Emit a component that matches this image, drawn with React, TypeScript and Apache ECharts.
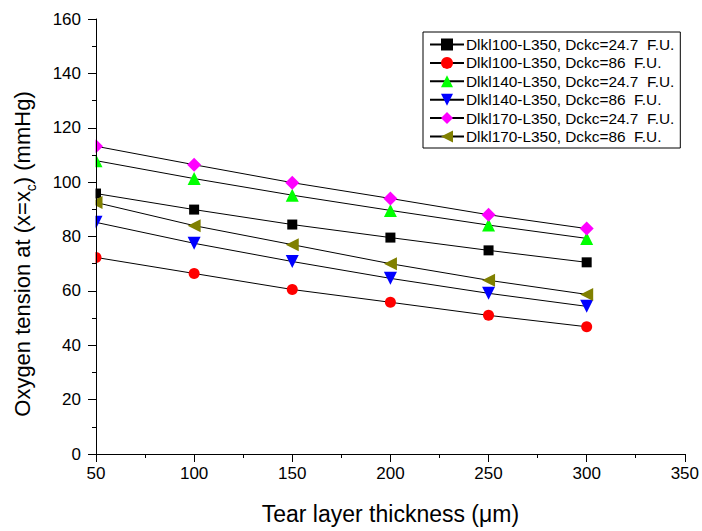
import React, { useEffect, useRef } from "react";
import * as echarts from "echarts";

const thickness = [50, 100, 150, 200, 250, 300];
const dlkl100_247 = [95.8, 89.9, 84.4, 79.6, 74.9, 70.5];
const dlkl100_86 = [72.3, 66.4, 60.5, 55.8, 51.0, 46.8];
const dlkl140_247 = [107.9, 101.3, 95.2, 89.6, 84.2, 79.3];
const dlkl140_86 = [85.2, 77.5, 70.8, 64.6, 59.1, 54.3];
const dlkl170_247 = [113.2, 106.4, 99.8, 94.0, 88.0, 82.9];
const dlkl170_86 = [92.5, 84.0, 77.0, 70.0, 63.9, 58.7];

const seriesNames = [
  "Dlkl100-L350, Dckc=24.7  F.U.",
  "Dlkl100-L350, Dckc=86  F.U.",
  "Dlkl140-L350, Dckc=24.7  F.U.",
  "Dlkl140-L350, Dckc=86  F.U.",
  "Dlkl170-L350, Dckc=24.7  F.U.",
  "Dlkl170-L350, Dckc=86  F.U.",
];
const seriesValues = [dlkl100_247, dlkl100_86, dlkl140_247, dlkl140_86, dlkl170_247, dlkl170_86];
const colors = ["#000000", "#ff0000", "#00ff00", "#0000ff", "#ff00ff", "#808000"];
const symbols = ["rect", "circle", "triangle", "triangle", "diamond", "triangle"];
const symbolSizes = [10, 11, 13, 13, 14, 13];
const symbolRotates = [0, 0, 0, 180, 0, 90];

const xTitle = "Tear layer thickness (\u03bcm)";
const yTitle = "Oxygen tension at (x=x{sub|c}) (mmHg)";

export default function App() {
  const ref = useRef<HTMLDivElement>(null);
  useEffect(() => {
    if (!ref.current) return;
    const chart = echarts.init(ref.current, null, { renderer: "svg" });
    const font = "Liberation Sans, Arial, sans-serif";
    chart.setOption({
      animation: false,
      textStyle: { fontFamily: font, color: "#000" },
      grid: { left: 96, right: 17, top: 19, bottom: 77, containLabel: false },
      legend: {
        orient: "vertical",
        left: 423,
        top: 32,
        padding: [5, 6, 4, 6],
        itemWidth: 34,
        itemHeight: 15,
        itemGap: 3.4,
        borderColor: "#000",
        borderWidth: 1,
        backgroundColor: "#fff",
        textStyle: { fontFamily: font, fontSize: 15.4, lineHeight: 15, color: "#000", padding: [0, 0, 0, -3] },
        data: seriesNames,
      },
      xAxis: {
        type: "value",
        min: 50,
        max: 350,
        interval: 50,
        z: 10,
        name: xTitle,
        nameLocation: "middle",
        nameGap: 48,
        nameTextStyle: { fontSize: 23, fontFamily: font, color: "#000" },
        axisLine: { show: true, lineStyle: { color: "#000", width: 1 } },
        axisTick: { show: true, length: 8, inside: false, lineStyle: { color: "#000" } },
        minorTick: { show: true, splitNumber: 2, length: 4, lineStyle: { color: "#000" } },
        axisLabel: { fontSize: 17, color: "#000", margin: 11, fontFamily: font },
        splitLine: { show: false },
      },
      yAxis: {
        type: "value",
        min: 0,
        max: 160,
        interval: 20,
        z: 10,
        axisLine: { show: true, lineStyle: { color: "#000", width: 1 } },
        axisTick: { show: true, length: 8, inside: false, lineStyle: { color: "#000" } },
        minorTick: { show: true, splitNumber: 2, length: 4, lineStyle: { color: "#000" } },
        axisLabel: { fontSize: 17, color: "#000", margin: 15, fontFamily: font },
        splitLine: { show: false },
      },
      graphic: [
        {
          type: "rect",
          z: 5,
          shape: { x: 84, y: 10, width: 11.5, height: 443 },
          style: { fill: "#fff" },
          silent: true,
        },
        {
          type: "text",
          z: 20,
          x: 22,
          y: 254,
          rotation: Math.PI / 2,
          silent: true,
          style: {
            text: yTitle,
            fontSize: 22,
            fontFamily: font,
            fill: "#000",
            align: "center",
            verticalAlign: "middle",
            rich: {
              sub: { fontSize: 14, fontFamily: font, fill: "#000", verticalAlign: "bottom", lineHeight: 31 },
            },
          },
        },
      ],
      series: seriesNames.map((name, i) => ({
        name,
        type: "line",
        data: thickness.map((t, j) => [t, seriesValues[i][j]]),
        symbol: symbols[i],
        symbolSize: symbolSizes[i],
        symbolRotate: symbolRotates[i],
        showAllSymbol: true,
        clip: false,
        lineStyle: { color: "#000", width: 1 },
        itemStyle: { color: colors[i], borderWidth: 0 },
        z: 2,
      })),
    });
    return () => chart.dispose();
  }, []);
  return <div ref={ref} style={{ width: 702, height: 531, position: "absolute", left: 0, top: 0 }} />;
}
